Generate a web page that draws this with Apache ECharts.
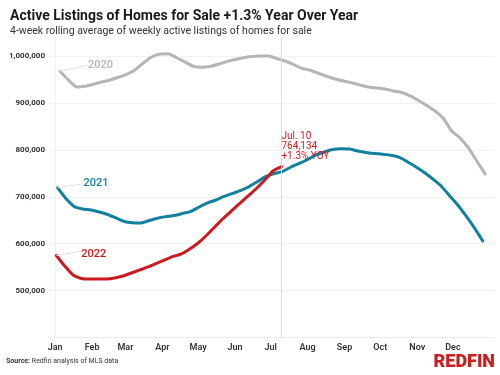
<!DOCTYPE html>
<html>
<head>
<meta charset="utf-8">
<script src="https://cdn.jsdelivr.net/npm/echarts@6/dist/echarts.min.js"></script>
<style>
  html, body { margin: 0; padding: 0; background: #fff; }
  #chart { width: 500px; height: 375px; }
</style>
</head>
<body>
<div id="chart"></div>
<script>
// month labels sit on the first day of each month (day of year, 0 = Jan 1)
const MONTHS = ['Jan', 'Feb', 'Mar', 'Apr', 'May', 'Jun', 'Jul', 'Aug', 'Sep', 'Oct', 'Nov', 'Dec']
const MONTH_DAYS = [0, 31, 59, 90, 120, 151, 181, 212, 243, 273, 304, 334]

// weekly readings, first week of each year falls on a different day
const START_2020 = 4
const START_2021 = 2
const START_2022 = 1

const listings2020 = [
  967400, 949500, 934000, 935400, 939700, 944600, 948900, 954600, 961000, 970200,
  985100, 997900, 1004300, 1004900, 996200, 987200, 978100, 975900, 977600, 982500,
  987900, 992500, 996400, 998900, 1000000, 1000000, 994700, 989300, 981900, 973800,
  969700, 963100, 956800, 951000, 946700, 943100, 938200, 934000, 931800, 929700,
  925400, 922200, 914800, 905200, 894600, 882800, 866800, 840200, 825300, 804000,
  776300, 748600
]

const listings2021 = [
  719400, 696400, 679400, 674100, 671900, 667700, 662300, 654900, 647400, 644600,
  644200, 649500, 654400, 657700, 660200, 664500, 669100, 678300, 686800, 693200,
  700700, 707100, 713500, 722000, 732600, 743300, 749700, 754000, 763500, 771000,
  779500, 789100, 795500, 800800, 802300, 801900, 797600, 794400, 792300, 790600,
  788500, 783800, 774200, 763500, 751800, 737900, 723100, 702800, 682600, 659100,
  633600, 605900
]

const listings2022 = [
  575000, 552600, 533400, 526000, 524900, 524900, 524900, 527100, 531300, 537700,
  544100, 550500, 557900, 565400, 572900, 578200, 588800, 601600, 617600, 635700,
  653800, 669800, 685800, 701700, 717700, 735800, 755000, 764134
]

const COLOR_2020 = '#b5b5b5'
const COLOR_2021 = '#12809f'
const COLOR_2022 = '#cd1a20'

const toPoints = (values, startDay, name, color) => {
  const pts = values.map((v, i) => [startDay + 7 * i, v])
  pts[0] = {
    value: pts[0],
    label: {
      show: true,
      formatter: name,
      position: 'right',
      color: color,
      fontSize: 11,
      fontWeight: 500,
      fontFamily: 'Roboto'
    }
  }
  return pts
}

const makeSeries = (name, values, startDay, color, dx, dy) => ({
  name: name,
  type: 'line',
  data: toPoints(values, startDay, name, color),
  smooth: 0.2,
  showSymbol: true,
  showAllSymbol: true,
  symbol: 'circle',
  symbolSize: 0,
  silent: true,
  lineStyle: { color: color, width: 3, cap: 'round', join: 'round' },
  itemStyle: { color: color },
  label: { show: false },
  labelLayout: { dx: dx, dy: dy },
  labelLine: { show: true, lineStyle: { color: '#e2e2e2', width: 1 } }
})

const lastDay2022 = START_2022 + 7 * (listings2022.length - 1)
const lastVal2022 = listings2022[listings2022.length - 1]

const chart = echarts.init(document.getElementById('chart'))

const series2022 = makeSeries('2022', listings2022, START_2022, COLOR_2022, 20, -1)
series2022.markLine = {
  silent: true,
  symbol: ['none', 'none'],
  label: { show: false },
  lineStyle: { color: '#dedede', width: 1, type: 'solid' },
  data: [{ xAxis: lastDay2022 }]
}
series2022.markPoint = {
  silent: true,
  symbol: 'circle',
  symbolSize: 0,
  data: [{ coord: [lastDay2022, lastVal2022] }],
  label: {
    show: true,
    position: [0, -5],
    align: 'left',
    verticalAlign: 'bottom',
    formatter: 'Jul. 10\n764,134\n+1.3% YOY',
    color: COLOR_2022,
    fontSize: 10,
    lineHeight: 10,
    fontFamily: 'Roboto'
  }
}

const option = {
  animation: false,
  title: {
    text: 'Active Listings of Homes for Sale +1.3% Year Over Year',
    subtext: '4-week rolling average of weekly active listings of homes for sale',
    left: 5,
    top: 4,
    itemGap: 3,
    textStyle: { fontFamily: 'Roboto', fontSize: 14, fontWeight: 'bold', color: '#1a1a1a' },
    subtextStyle: { fontFamily: 'Roboto', fontSize: 10.5, color: '#333' }
  },
  grid: { left: 48, right: 5, top: 37.2, bottom: 37.4 },
  xAxis: {
    type: 'value',
    min: -6,
    max: 369.3,
    axisLine: { show: true, lineStyle: { color: '#ececec' } },
    axisTick: { show: false },
    splitLine: { show: false },
    axisLabel: {
      customValues: MONTH_DAYS,
      formatter: v => MONTHS[MONTH_DAYS.indexOf(v)] || '',
      color: '#333',
      fontSize: 9,
      fontWeight: 600,
      fontFamily: 'Roboto',
      margin: 6
    }
  },
  yAxis: {
    type: 'value',
    min: 400000,
    max: 1040000,
    interval: 100000,
    axisLine: { show: true, lineStyle: { color: '#f0f0f0' } },
    axisTick: { show: false },
    splitLine: { show: true, showMaxLine: false, lineStyle: { color: '#f2f2f2' } },
    axisLabel: {
      showMinLabel: false,
      showMaxLabel: false,
      formatter: v => (v % 100000 === 0 && v > 400000) ? v.toLocaleString('en-US') : '',
      color: '#333',
      fontSize: 8,
      fontWeight: 'bold',
      fontFamily: 'Roboto',
      margin: 3
    }
  },
  series: [
    makeSeries('2020', listings2020, START_2020, COLOR_2020, 23, -6),
    makeSeries('2021', listings2021, START_2021, COLOR_2021, 21, -4),
    series2022
  ],
  graphic: [
    {
      type: 'text',
      left: 6,
      top: 358,
      style: {
        text: '{b|Source:} Redfin analysis of MLS data',
        rich: { b: { fontWeight: 'bold', fontSize: 7, fontFamily: 'Roboto', fill: '#333' } },
        fontSize: 7,
        fontFamily: 'Roboto',
        fill: '#333'
      }
    },
    {
      type: 'text',
      right: 5,
      top: 353,
      style: {
        text: 'REDFIN',
        fontSize: 18,
        fontWeight: 900,
        fontFamily: 'Roboto',
        fill: '#c82021'
      }
    }
  ]
}

chart.setOption(option)
</script>
</body>
</html>
